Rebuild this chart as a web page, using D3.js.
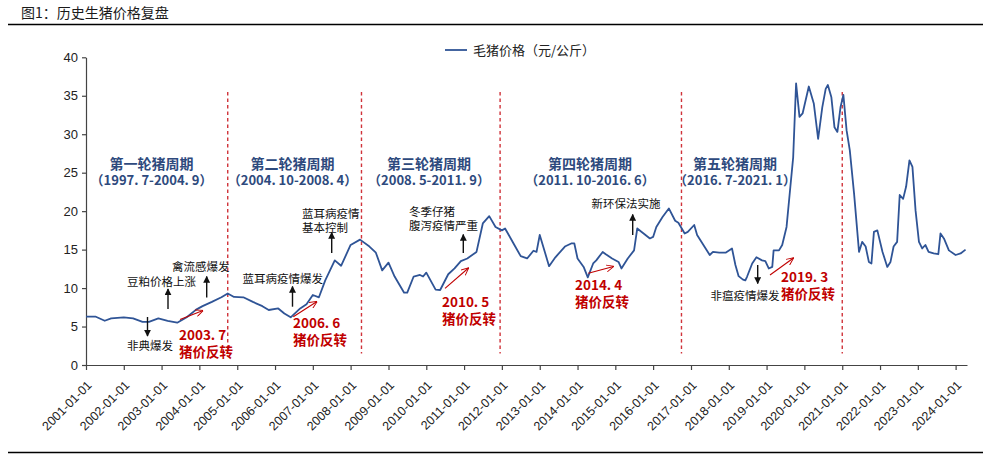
<!DOCTYPE html>
<html><head><meta charset="utf-8">
<script src="https://cdn.jsdelivr.net/npm/d3@7"></script>
<style>
html,body{margin:0;padding:0;background:#fff;}
svg{display:block;}
</style></head>
<body><svg id="c" width="999" height="455"></svg>
<script>
// ---------------- data ----------------
const title = "图1：历史生猪价格复盘";
const seriesName = "毛猪价格（元/公斤）";
const dates = [
"2001-01-01","2001-04-01","2001-07-01","2001-09-01","2002-01-01","2002-04-01","2002-07-01","2002-09-01","2002-12-01",
"2003-03-01","2003-06-01","2003-09-01","2003-12-01","2004-02-01","2004-05-01","2004-08-01","2004-10-01","2004-12-01",
"2005-03-01","2005-06-01","2005-09-01","2005-11-01","2006-02-01","2006-04-01","2006-06-01","2006-09-01","2006-11-01",
"2007-01-01","2007-03-01","2007-05-01","2007-08-01","2007-10-01","2008-01-01","2008-04-01","2008-07-01","2008-09-01",
"2008-11-01","2009-01-01","2009-03-01","2009-06-01","2009-07-01","2009-09-01","2009-11-01","2009-12-01","2010-01-01",
"2010-04-01","2010-05-15","2010-08-01","2010-10-01","2010-12-01","2011-02-01","2011-05-01","2011-07-01","2011-09-01",
"2011-11-01","2012-01-01","2012-02-01","2012-05-01","2012-07-01","2012-09-01","2012-11-01","2012-12-01","2013-01-01",
"2013-04-01","2013-06-01","2013-09-01","2013-11-01","2013-12-01","2014-01-01","2014-03-01","2014-04-10","2014-06-01",
"2014-07-01","2014-09-01","2014-10-01","2014-12-01","2015-02-01","2015-03-01","2015-05-01","2015-07-01","2015-08-01",
"2015-10-01","2015-12-01","2016-01-01","2016-02-01","2016-04-01","2016-06-01","2016-08-01","2016-09-01","2016-11-01",
"2016-12-01","2017-02-01","2017-03-01","2017-05-01","2017-07-01","2017-08-01","2017-10-01","2017-12-01","2018-02-01",
"2018-03-06","2018-04-06","2018-05-18","2018-06-10","2018-06-27","2018-08-15","2018-09-25","2018-11-18","2018-12-20",
"2019-01-22","2019-02-25","2019-03-10","2019-05-01","2019-06-01","2019-07-13","2019-08-19","2019-09-15","2019-10-13",
"2019-11-15","2019-12-15","2020-02-13","2020-04-01","2020-05-13","2020-06-22","2020-07-25","2020-08-15","2020-09-18",
"2020-10-18","2020-11-15","2020-12-15","2021-01-12","2021-02-12","2021-03-15","2021-04-25","2021-06-12","2021-07-12",
"2021-08-15","2021-09-15","2021-10-10","2021-11-03","2021-12-06","2022-01-25","2022-03-12","2022-04-12","2022-05-12",
"2022-06-15","2022-07-10","2022-08-12","2022-09-10","2022-10-12","2022-11-10","2022-12-10","2023-01-12","2023-02-12",
"2023-03-15","2023-04-15","2023-06-03","2023-07-18","2023-08-08","2023-09-10","2023-10-28","2024-01-01","2024-02-18",
"2024-04-06"];
const prices = [
6.3,6.3,5.75,6.05,6.2,6.05,5.6,5.6,6.05,
5.75,5.5,6.2,7.2,7.65,8.2,8.8,9.3,8.85,
8.8,8.2,7.65,7.15,7.35,6.7,6.2,7.35,7.9,
9.1,8.8,11.0,13.6,12.9,15.6,16.3,15.4,14.6,
12.3,13.3,11.5,9.4,9.4,11.5,11.7,11.5,12.0,
9.8,9.75,11.8,12.55,13.5,13.85,14.7,18.4,19.35,
17.95,17.5,17.75,15.6,14.15,13.85,14.85,14.7,16.9,
12.85,14.0,15.4,15.8,15.8,13.85,12.75,11.4,13.2,
13.6,14.7,14.4,13.85,13.4,12.55,13.85,14.9,17.75,
17.1,16.45,16.65,17.95,19.25,20.35,18.75,18.5,17.1,
17.3,18.2,16.9,15.6,14.3,14.7,14.6,14.6,15.15,
13.0,11.55,11.1,11.0,11.5,13.2,14.0,13.6,13.5,
12.55,12.75,14.9,14.9,15.6,17.95,23.2,27.0,36.6,
32.25,32.7,36.2,34.0,29.4,33.5,35.9,36.4,34.8,
30.9,30.3,33.5,35.1,30.5,27.9,22.3,14.7,16.0,
15.4,13.4,13.2,17.3,17.5,14.7,12.75,13.4,15.4,
16.0,22.1,21.6,23.2,26.6,25.75,20.1,16.0,15.15,
15.6,14.7,14.5,14.4,17.1,16.45,14.9,14.3,14.5,
15.0];
const yTicks = [0,5,10,15,20,25,30,35,40];
const xTickYears = d3.range(2001, 2025);
const cycleBoundaries = ["2004-10-01","2008-04-15","2011-12-15","2016-10-01","2021-01-01"];
const cycleNames = ["第一轮猪周期","第二轮猪周期","第三轮猪周期","第四轮猪周期","第五轮猪周期"];
const cycleRanges = ["（1997. 7-2004. 9）","（2004. 10-2008. 4）","（2008. 5-2011. 9）","（2011. 10-2016. 6）","（2016. 7-2021. 1）"];
const eventTexts = [["非典爆发"],["豆粕价格上涨"],["禽流感爆发"],["蓝耳病疫情爆发"],["蓝耳病疫情","基本控制"],["冬季仔猪","腹泻疫情严重"],["新环保法实施"],["非瘟疫情爆发"]];
const reversalDates = ["2003. 7","2006. 6","2010. 5","2014. 4","2019. 3"];
const reversalText = "猪价反转";

// ---------------- layout ----------------
const svg = d3.select("#c");
const parse = d3.timeParse("%Y-%m-%d");
const x = d3.scaleTime().domain([new Date(2001,0,1), new Date(2024,3,20)]).range([86, 967]);
const y = d3.scaleLinear().domain([0,40]).range([365, 57.3]);
const CJK = "'Noto Sans CJK SC','Noto Sans',sans-serif";
const LAT = "'Liberation Sans',Arial,sans-serif";
const navy = "#2f5496";
const red = "#c00000";

// title + rules
svg.append("text").attr("x",21).attr("y",18).attr("font-family",CJK).attr("font-size",14)
  .attr("fill","#1a1a1a").text(title);
svg.append("line").attr("x1",8).attr("x2",983).attr("y1",24.5).attr("y2",24.5).attr("stroke","#000").attr("stroke-width",1.4);
svg.append("line").attr("x1",8).attr("x2",983).attr("y1",452.5).attr("y2",452.5).attr("stroke","#000").attr("stroke-width",1.4);

// legend
svg.append("line").attr("x1",445).attr("x2",467).attr("y1",50).attr("y2",50).attr("stroke",navy).attr("stroke-width",1.8);
svg.append("text").attr("x",473).attr("y",50).attr("dy","0.36em").attr("font-family",CJK).attr("font-size",13)
  .attr("fill","#222").text(seriesName);

// axes
const yAxis = svg.append("g").attr("transform","translate(86,0)")
  .call(d3.axisLeft(y).tickValues(yTicks).tickSize(4).tickSizeOuter(0).tickPadding(4));
yAxis.selectAll("text").attr("font-family",LAT).attr("font-size",13).attr("fill","#222");
const xAxis = svg.append("g").attr("transform","translate(0,365)")
  .call(d3.axisBottom(x).tickValues(xTickYears.map(yr=>new Date(yr,0,1))).tickSize(5).tickSizeOuter(0)
    .tickFormat(d3.timeFormat("%Y-%m-%d")));
xAxis.selectAll("text").attr("font-family",LAT).attr("font-size",12.5).attr("fill","#222")
  .attr("text-anchor","end").attr("dy",null).attr("y",0)
  .attr("transform","translate(6,21) rotate(-45)");
svg.selectAll(".domain, .tick line").attr("stroke","#444").attr("stroke-width",1.2);

// cycle boundaries
svg.append("g").selectAll("line").data(cycleBoundaries).join("line")
  .attr("x1",d=>x(parse(d))).attr("x2",d=>x(parse(d)))
  .attr("y1",y(35.5)).attr("y2",y(1.5))
  .attr("stroke","#d0333a").attr("stroke-width",1.4).attr("stroke-dasharray","3.5,3");

// series line
const pts = dates.map((d,i)=>({date:parse(d), v:prices[i]}));
svg.append("path").datum(pts)
  .attr("d", d3.line().x(d=>x(d.date)).y(d=>y(d.v)))
  .attr("fill","none").attr("stroke",navy).attr("stroke-width",1.8).attr("stroke-linejoin","round");

// cycle labels (one text element, two lines)
const cycleCenters = [151.5,292.5,429,590,735];
const cl = svg.append("g").attr("font-family",CJK).attr("fill","#2e4a7d").attr("text-anchor","middle").attr("font-weight",700);
cycleNames.forEach((n,i)=>{
  const t = cl.append("text").attr("y",164);
  t.append("tspan").attr("x",cycleCenters[i]).attr("dy","0.36em").attr("font-size",14).text(n);
  t.append("tspan").attr("x",cycleCenters[i]).attr("dy",16).attr("font-size",13).text(cycleRanges[i]);
});

// markers
const defs = svg.append("defs");
defs.append("marker").attr("id","tri").attr("viewBox","0 0 10 10").attr("refX",9).attr("refY",5)
  .attr("markerWidth",5).attr("markerHeight",5).attr("markerUnits","strokeWidth").attr("orient","auto")
  .append("path").attr("d","M0,0L10,5L0,10Z").attr("fill","#111");
defs.append("marker").attr("id","vee").attr("viewBox","0 0 10 10").attr("refX",9.5).attr("refY",5)
  .attr("markerWidth",7).attr("markerHeight",7).attr("markerUnits","strokeWidth").attr("orient","auto")
  .append("path").attr("d","M0,0.5L10,5L0,9.5").attr("fill","none").attr("stroke",red).attr("stroke-width",1.2);

// event annotations (text position, arrow)
const eventLayout = [
  {tx:127, ty:346, ax:147.5, a1:317, a2:336},
  {tx:127, ty:281.5, ax:168, a1:309, a2:289},
  {tx:172, ty:266.7, ax:206.7, a1:297.5, a2:276.5},
  {tx:242.5, ty:279.3, ax:292.5, a1:306.7, a2:286.5},
  {tx:302, ty:214, ax:331.7, a1:253, a2:232.5},
  {tx:409, ty:211.7, ax:463.3, a1:253, a2:234.5},
  {tx:591.5, ty:204.3, ax:632.7, a1:235, a2:214.5},
  {tx:710.5, ty:295.7, ax:757.7, a1:265, a2:283.5}
];
const ev = svg.append("g").attr("font-family",CJK).attr("font-size",11.5).attr("fill","#111");
eventTexts.forEach((lines,i)=>{
  const L = eventLayout[i];
  const t = ev.append("text").attr("y",L.ty);
  lines.forEach((s,j)=>t.append("tspan").attr("x",L.tx).attr("dy", j===0 ? "0.36em" : 14).text(s));
  ev.append("line").attr("x1",L.ax).attr("x2",L.ax).attr("y1",L.a1).attr("y2",L.a2)
    .attr("stroke","#111").attr("stroke-width",1.4).attr("marker-end","url(#tri)");
});

// reversal annotations
const revLayout = [
  {tx:179, ty:335, x1:180, y1:319.5, x2:203, y2:310.5},
  {tx:293, ty:323.3, x1:293.3, y1:316.7, x2:317, y2:301.5},
  {tx:442, ty:301.7, x1:445, y1:288.3, x2:468.5, y2:268},
  {tx:575, ty:285, x1:588.3, y1:273.3, x2:613.5, y2:266.5},
  {tx:781, ty:277.3, x1:770, y1:275, x2:793.5, y2:258}
];
const rv = svg.append("g").attr("font-family",CJK).attr("fill",red).attr("font-weight",700).attr("font-size",13.5);
reversalDates.forEach((d,i)=>{
  const L = revLayout[i];
  const t = rv.append("text").attr("y",L.ty);
  t.append("tspan").attr("x",L.tx).attr("dy","0.36em").text(d);
  t.append("tspan").attr("x",L.tx).attr("dy",17).text(reversalText);
  svg.append("line").attr("x1",L.x1).attr("y1",L.y1).attr("x2",L.x2).attr("y2",L.y2)
    .attr("stroke",red).attr("stroke-width",1.1).attr("marker-end","url(#vee)");
});
</script></body></html>
